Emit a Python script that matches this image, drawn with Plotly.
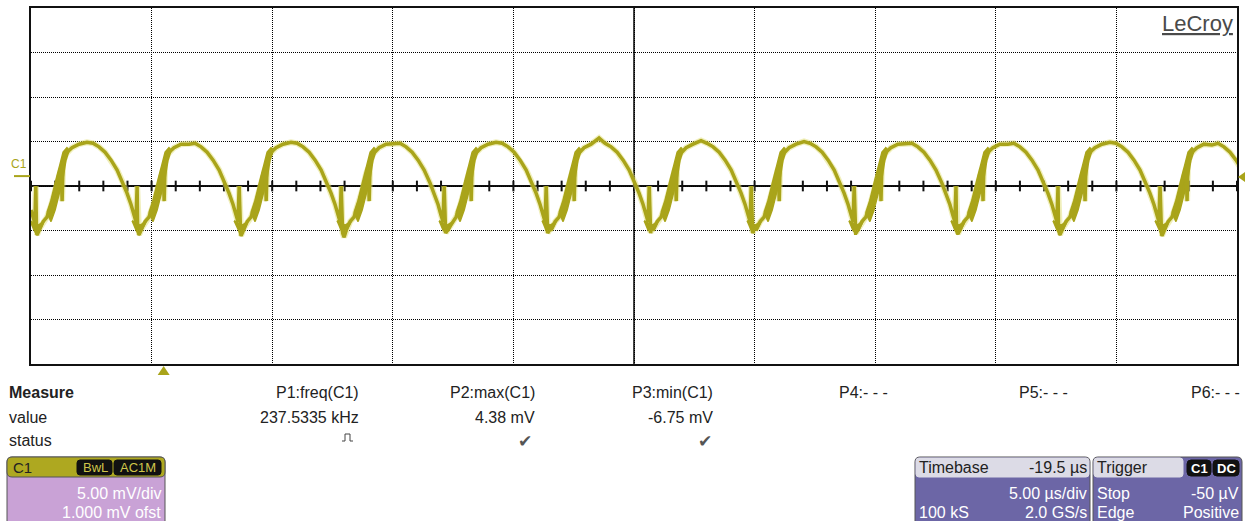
import plotly.graph_objects as go

# ---------------------------------------------------------------------------
# Channel C1 capture: 5.00 mV/div, 1.000 mV offset, 5.00 us/div, trigger at 0
# ---------------------------------------------------------------------------
X_RANGE = [-5.5, 44.5]          # us relative to trigger (10 div x 5 us)
Y_RANGE = [-21.0, 19.0]         # mV (8 div x 5 mV, centre at -1 mV)
X_DIV = 5.0
Y_DIV = 5.0

# start of screen: trace falling into the first cusp
LEAD_T = [-5.50, -5.42, -5.34, -5.30, -5.29, -5.27]
LEAD_V = [-3.7, -4.6, -5.2, -1.0, -5.7, -6.2]

# times of the cusp (minimum) that opens each cycle, us
CUSP_US = [-5.25, -1.02, 3.21, 7.48, 11.71, 15.98, 20.21, 24.48, 28.70, 32.93, 37.16, 41.39]
# per-cycle crest and cusp levels, mV
PEAK_MV = [3.9, 3.7, 3.9, 3.8, 3.9, 4.38, 4.1, 4.0, 3.8, 3.7, 3.9, 3.6]
MIN_MV = [-6.5, -6.5, -6.6, -6.75, -6.2, -6.0, -5.9, -5.8, -6.3, -6.4, -6.5, -6.6]

# one cycle of the ripple (centre of the trace): time after the cusp (us), level (mV)
CYCLE_DT_US = [0.00, 0.12, 0.25, 0.41, 0.58, 0.75, 0.91, 1.00, 1.04, 1.08, 1.20,
               1.29, 1.45, 1.74, 2.07, 2.32, 2.57, 2.82, 3.07, 3.32, 3.57, 3.73,
               3.90, 4.02, 4.08, 4.10, 4.15, 4.17, 4.21]
CYCLE_MV = [-6.6, -5.7, -5.0, -4.5, -3.2, -1.5, 0.4, 1.0, -2.7, 1.6, 2.6,
            2.9, 3.3, 3.7, 3.9, 3.8, 3.4, 2.8, 1.9, 0.8, -0.7, -1.8,
            -3.1, -4.3, -4.7, -5.0, -1.0, -5.5, -6.3]

# ringing on the rising edge, drawn as a filled band (time after cusp, level)
RING_DT_US = [0.41, 0.58, 0.75, 0.91, 1.08, 1.24, 1.33, 1.20, 1.08, 0.91, 0.75, 0.58]
RING_MV = [-4.0, -2.6, -0.7, 1.0, 2.8, 3.3, 3.0, 1.9, -0.1, -2.0, -3.7, -5.0]

# thickening of the trace around the cusp
CUSP_DT_US = [-0.29, -0.12, 0.00, 0.12, 0.29, 0.04]
CUSP_MV = [-4.9, -6.0, -6.6, -6.0, -5.0, -5.4]

MEAS_HEAD = ["P1:freq(C1)", "P2:max(C1)", "P3:min(C1)", "P4:- - -", "P5:- - -", "P6:- - -"]
MEAS_VALUE = ["237.5335 kHz", "4.38 mV", "-6.75 mV", "", "", ""]

W, H = 1245, 521
PLOT_L, PLOT_R, PLOT_T, PLOT_B = 31, 1237, 8, 364
FONT = "Liberation Sans, Arial, sans-serif"
TRACE = "#a9a41a"
HALO = "rgba(226,224,120,0.5)"
BLUE = "#6c66a6"
LILAC = "#c9a2d6"
HEAD_GRAY = "#dcdbe6"


def px(x):
    return x / W


def py(y):
    return 1 - y / H


# assemble the trace
wave_t = list(LEAD_T)
wave_v = list(LEAD_V)
peak_idx = CYCLE_MV.index(max(CYCLE_MV))
for c, pk, mn in zip(CUSP_US, PEAK_MV, MIN_MV):
    for i, (dt, v) in enumerate(zip(CYCLE_DT_US, CYCLE_MV)):
        if i == 0:
            v = mn
        elif i == peak_idx:
            v = pk
        wave_t.append(c + dt)
        wave_v.append(v)

# filled bands (ringing + cusp), one closed polygon per cycle
band_t, band_v = [], []
for c, mn in zip(CUSP_US, MIN_MV):
    for dts, vs in ((RING_DT_US, RING_MV), (CUSP_DT_US, CUSP_MV)):
        pts_t = [c + d for d in dts]
        pts_v = [mn if d == 0.0 else v for d, v in zip(dts, vs)]
        band_t += pts_t + [pts_t[0], None]
        band_v += pts_v + [pts_v[0], None]

x_mid = (X_RANGE[0] + X_RANGE[1]) / 2
y_mid = (Y_RANGE[0] + Y_RANGE[1]) / 2
n_xdiv = int(round((X_RANGE[1] - X_RANGE[0]) / X_DIV))
n_ydiv = int(round((Y_RANGE[1] - Y_RANGE[0]) / Y_DIV))

# small graticule ticks on the centre line, 5 per division
tick_x, tick_y = [], []
minor = X_DIV / 5
k = 0
while X_RANGE[0] + k * minor <= X_RANGE[1] + 1e-9:
    t = X_RANGE[0] + k * minor
    tick_x += [t, t, None]
    tick_y += [y_mid - 0.6, y_mid + 0.6, None]
    k += 1

fig = go.Figure()
fig.add_trace(go.Scatter(x=tick_x, y=tick_y, mode="lines",
                         line=dict(color="#111", width=2), hoverinfo="skip"))
fig.add_trace(go.Scatter(x=wave_t, y=wave_v, mode="lines",
                         line=dict(color=HALO, width=6), hoverinfo="skip"))
fig.add_trace(go.Scatter(x=band_t, y=band_v, mode="lines", fill="toself",
                         fillcolor=TRACE, line=dict(color=TRACE, width=1.5),
                         hoverinfo="skip"))
fig.add_trace(go.Scatter(x=wave_t, y=wave_v, mode="lines",
                         line=dict(color=TRACE, width=3.5), hoverinfo="skip"))

shapes = [
    dict(type="line", xref="x", yref="y", x0=x_mid, x1=x_mid,
         y0=Y_RANGE[0], y1=Y_RANGE[1], line=dict(color="#444", width=2), layer="below"),
    dict(type="line", xref="x", yref="y", x0=X_RANGE[0], x1=X_RANGE[1],
         y0=y_mid, y1=y_mid, line=dict(color="#111", width=2), layer="below"),
]


def rrect(x0, y0, x1, y1, r, fill, line="#555", lw=1):
    p = (f"M {px(x0 + r)} {py(y0)} L {px(x1 - r)} {py(y0)} "
         f"Q {px(x1)} {py(y0)} {px(x1)} {py(y0 + r)} L {px(x1)} {py(y1 - r)} "
         f"Q {px(x1)} {py(y1)} {px(x1 - r)} {py(y1)} L {px(x0 + r)} {py(y1)} "
         f"Q {px(x0)} {py(y1)} {px(x0)} {py(y1 - r)} L {px(x0)} {py(y0 + r)} "
         f"Q {px(x0)} {py(y0)} {px(x0 + r)} {py(y0)} Z")
    return dict(type="path", xref="paper", yref="paper", path=p, fillcolor=fill,
                line=dict(color=line, width=lw), layer="above")


ann = []


def text(x, y, s, size=16, color="#222", anchor="left", bold=False):
    if bold:
        s = f"<b>{s}</b>"
    ann.append(dict(x=px(x), y=py(y), xref="paper", yref="paper", text=s,
                    showarrow=False, xanchor=anchor, yanchor="middle",
                    font=dict(family=FONT, size=size, color=color)))


# channel marker on the left, trigger level on the right, trigger position below
zero_y = PLOT_T + (Y_RANGE[1] - 0) / (Y_RANGE[1] - Y_RANGE[0]) * (PLOT_B - PLOT_T)
text(19, zero_y - 13, "C1", size=12, color=TRACE, anchor="center")
shapes.append(dict(type="line", xref="paper", yref="paper", x0=px(14), x1=px(30),
                   y0=py(zero_y - 1), y1=py(zero_y - 1), line=dict(color=TRACE, width=2)))
shapes.append(dict(type="path", xref="paper", yref="paper",
                   path=f"M {px(1238)} {py(zero_y)} L {px(1245)} {py(zero_y - 5)} "
                        f"L {px(1245)} {py(zero_y + 5)} Z",
                   fillcolor=TRACE, line=dict(width=0)))
trig_x = PLOT_L + (0 - X_RANGE[0]) / (X_RANGE[1] - X_RANGE[0]) * (PLOT_R - PLOT_L)
shapes.append(dict(type="path", xref="paper", yref="paper",
                   path=f"M {px(trig_x - 6)} {py(375)} L {px(trig_x + 6)} {py(375)} "
                        f"L {px(trig_x)} {py(366)} Z",
                   fillcolor=TRACE, line=dict(width=0)))

# LeCroy logo
text(1235, 23, "<u>LeCroy</u>", size=22, color="#4a4a4a", anchor="right")

# measurement table
text(7, 392, "Measure", size=16, bold=True)
text(7, 417, "value", size=16)
text(7, 440, "status", size=16)
col_right = [361, 537, 715, 890, 1070, 1242]
for xr, head, val in zip(col_right, MEAS_HEAD, MEAS_VALUE):
    text(xr, 392, head, size=16, anchor="right")
    if val:
        text(xr, 417, val, size=16, anchor="right")
# status glyphs
pulse_x = 348
shapes.append(dict(type="path", xref="paper", yref="paper",
                   path=f"M {px(pulse_x - 6)} {py(441)} L {px(pulse_x - 3)} {py(441)} "
                        f"L {px(pulse_x - 3)} {py(434)} L {px(pulse_x + 2)} {py(434)} "
                        f"L {px(pulse_x + 2)} {py(441)} L {px(pulse_x + 5)} {py(441)}",
                   line=dict(color="#444", width=1)))
text(525, 441, "\u2714", size=17, color="#555", anchor="center")
text(705, 441, "\u2714", size=17, color="#555", anchor="center")

# C1 channel box
shapes.append(rrect(7, 457, 165, 528, 5, LILAC))
shapes.append(rrect(7, 457, 165, 477, 5, "#aea820", line="#555"))
shapes.append(rrect(77, 460, 112, 475, 3, "#111", line="#111"))
shapes.append(rrect(114, 460, 161, 475, 3, "#111", line="#111"))
text(11, 467, "C1", size=15, color="#222")
text(95, 467.5, "BwL", size=13, color="#cfc64a", anchor="center")
text(137.5, 467.5, "AC1M", size=13, color="#cfc64a", anchor="center")
text(163, 493, "5.00 mV/div", size=16, color="white", anchor="right")
text(163, 512, "1.000 mV ofst", size=16, color="white", anchor="right")

# Timebase box
shapes.append(rrect(915, 457, 1090, 528, 5, BLUE))
shapes.append(rrect(916, 458, 1089, 477, 3, HEAD_GRAY, line=HEAD_GRAY))
text(917, 467, "Timebase", size=16, color="#222")
text(1089, 467, "-19.5 \u00b5s", size=16, color="#222", anchor="right")
text(1089, 493, "5.00 \u00b5s/div", size=16, color="white", anchor="right")
text(917, 512, "100 kS", size=16, color="white")
text(1089, 512, "2.0 GS/s", size=16, color="white", anchor="right")

# Trigger box
shapes.append(rrect(1093, 457, 1242, 528, 5, BLUE))
shapes.append(rrect(1094, 458, 1183, 477, 3, HEAD_GRAY, line=HEAD_GRAY))
shapes.append(rrect(1187, 460, 1211, 476, 4, "#111", line="#111"))
shapes.append(rrect(1213, 460, 1239, 476, 4, "#111", line="#111"))
text(1095, 467, "Trigger", size=16, color="#222")
text(1199, 468, "<b>C1</b>", size=13, color="white", anchor="center")
text(1226, 468, "<b>DC</b>", size=13, color="white", anchor="center")
text(1095, 493, "Stop", size=16, color="white")
text(1241, 493, "-50 \u00b5V", size=16, color="white", anchor="right")
text(1095, 512, "Edge", size=16, color="white")
text(1241, 512, "Positive", size=16, color="white", anchor="right")

grid = dict(showgrid=True, gridcolor="#000", griddash="1px,1px", gridwidth=1,
            zeroline=False, showticklabels=False, ticks="",
            showline=True, mirror=True, linecolor="#111", linewidth=2, fixedrange=True)

fig.update_layout(
    width=W, height=H, margin=dict(l=0, r=0, t=0, b=0),
    paper_bgcolor="white", plot_bgcolor="white", showlegend=False,
    xaxis=dict(range=X_RANGE, domain=[px(PLOT_L), px(PLOT_R)],
               tickvals=[X_RANGE[0] + i * X_DIV for i in range(n_xdiv + 1)], **grid),
    yaxis=dict(range=Y_RANGE, domain=[py(PLOT_B), py(PLOT_T)],
               tickvals=[Y_RANGE[0] + i * Y_DIV for i in range(n_ydiv + 1)], **grid),
    shapes=shapes, annotations=ann,
)

fig.write_html("out.html")
